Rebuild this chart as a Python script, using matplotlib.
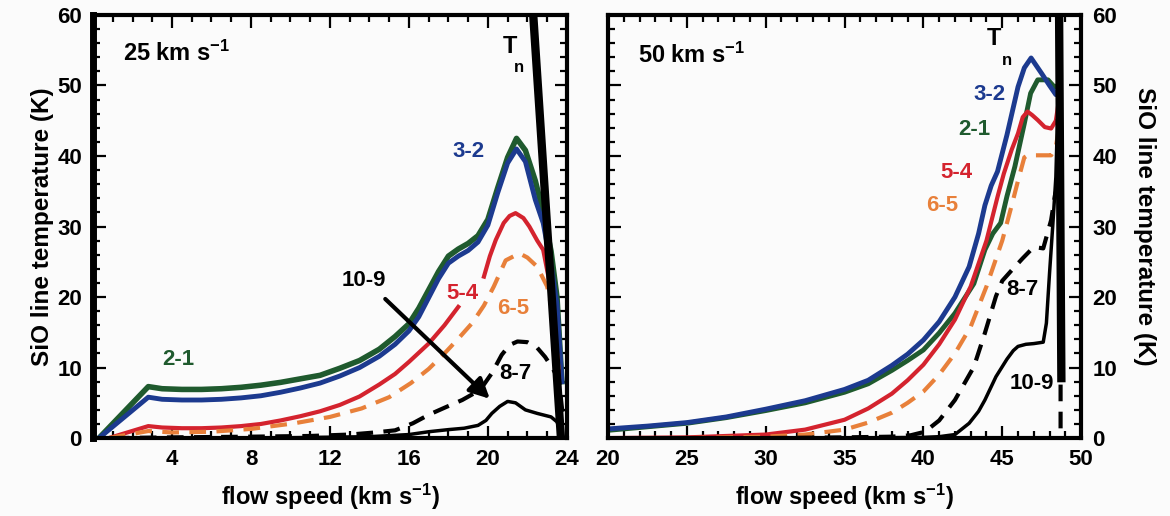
import matplotlib
matplotlib.use('Agg')
import matplotlib.pyplot as plt
from matplotlib.ticker import MultipleLocator

plt.rcParams['font.family'] = ['Liberation Sans', 'DejaVu Sans']
plt.rcParams['font.weight'] = 'bold'
plt.rcParams['axes.labelweight'] = 'bold'
plt.rcParams['mathtext.fontset'] = 'custom'
plt.rcParams['mathtext.rm'] = 'Liberation Sans:bold'
plt.rcParams['mathtext.bf'] = 'Liberation Sans:bold'
plt.rcParams['mathtext.default'] = 'bf'
plt.rcParams['lines.solid_joinstyle'] = 'round'
plt.rcParams['lines.dash_joinstyle'] = 'round'

# ---- left panel: 25 km/s shock ----
x_L = [0.3, 2.8, 3.5, 4.5, 5.5, 6.5, 7.5, 8.5, 9.5, 10.5, 11.5, 12.5, 13.5, 14.5, 15.3, 16.0, 16.5,
       17.0, 17.5, 18.0, 18.5, 19.0, 19.5, 20.0, 20.5, 21.0, 21.45, 21.9, 22.4, 22.8, 23.2, 23.5, 23.75]
y21_L = [0.0, 7.3, 7.0, 6.9, 6.9, 7.0, 7.2, 7.5, 7.9, 8.4, 8.9, 9.9, 11.0, 12.6, 14.4, 16.2, 18.4,
         21.0, 23.6, 25.8, 26.8, 27.6, 28.7, 31.0, 35.5, 39.8, 42.5, 40.8, 36.5, 32.0, 26.5, 20.0, 8.0]
y32_L = [0.0, 5.8, 5.5, 5.4, 5.4, 5.5, 5.7, 6.0, 6.5, 7.1, 7.8, 8.8, 10.0, 11.6, 13.3, 15.2, 17.2,
         19.9, 22.6, 24.8, 25.8, 26.6, 27.8, 30.2, 34.8, 39.0, 41.0, 39.2, 33.8, 30.5, 24.5, 19.0, 8.0]
x54a_L = [0.8, 2.8, 3.5, 4.5, 5.5, 6.5, 7.5, 8.5, 9.5, 10.5, 11.5, 12.5, 13.5, 14.5, 15.3, 16.0, 17.0, 17.8, 18.5]
y54a_L = [0.0, 1.7, 1.5, 1.4, 1.4, 1.5, 1.7, 2.0, 2.5, 3.1, 3.8, 4.7, 5.9, 7.6, 9.1, 10.8, 13.4, 16.0, 18.6]
x54b_L = [19.8, 20.1, 20.4, 20.8, 21.1, 21.4, 21.8, 22.1, 22.5, 22.8, 23.1, 23.35, 23.6]
y54b_L = [22.9, 25.8, 28.1, 30.5, 31.5, 31.9, 31.2, 30.0, 28.0, 26.7, 22.4, 17.0, 8.7]
x65_L = [0.8, 2.8, 4.0, 6.0, 8.0, 10.2, 12.0, 13.6, 15.0, 16.1, 17.0, 17.8, 18.5, 19.2, 19.8, 20.3,
         20.9, 21.6, 22.0, 22.5, 23.0, 23.3, 23.6]
y65_L = [0.0, 1.0, 0.8, 0.9, 1.3, 2.1, 3.0, 4.2, 5.8, 7.8, 9.8, 12.0, 14.1, 16.3, 18.8, 21.5,
         25.2, 26.2, 25.6, 24.3, 21.5, 17.5, 9.2]
x87_L = [1.0, 4.0, 8.0, 11.0, 13.0, 14.3, 15.3, 16.2, 17.0, 17.8, 18.7, 19.4, 19.8, 20.2, 20.7, 21.1,
         21.5, 22.0, 22.5, 22.9, 23.3, 23.6, 23.8]
y87_L = [0.0, 0.1, 0.2, 0.3, 0.5, 0.8, 1.1, 2.1, 3.3, 4.3, 5.4, 6.5, 7.6, 9.2, 11.8, 13.2,
         13.7, 13.6, 12.8, 11.5, 9.8, 8.2, 3.0]
x109_L = [4.0, 10.0, 14.0, 16.0, 17.0, 18.0, 18.8, 19.5, 19.9, 20.2, 20.6, 21.0, 21.4, 21.9, 22.5, 23.2, 23.5, 23.7]
y109_L = [0.0, 0.05, 0.2, 0.5, 0.9, 1.2, 1.4, 1.8, 2.5, 3.5, 4.5, 5.2, 5.0, 4.0, 3.5, 3.0, 2.3, 0.8]
xTn_L = [22.25, 23.7]
yTn_L = [62.0, 0.0]

# ---- right panel: 50 km/s shock ----
x32_R = [20, 22.5, 25, 27.5, 30, 32.5, 35, 36.5, 38, 39, 40, 41, 42, 42.9, 43.5, 43.9, 44.3, 44.7,
         45.3, 46.0, 46.4, 46.83, 47.5, 48.0, 48.4, 48.55]
y32_R = [1.3, 1.7, 2.2, 3.0, 4.1, 5.3, 6.9, 8.2, 10.3, 11.9, 13.9, 16.5, 20.0, 24.3, 29.0, 33.0, 35.8, 37.8,
         43.0, 49.8, 52.5, 53.9, 51.7, 50.0, 48.7, 49.5]
x21_R = [20, 22.5, 25, 27.5, 30, 32.5, 35, 36.5, 38, 39, 40, 41, 42, 43.2, 43.9, 44.4, 44.9, 45.3,
         45.8, 46.4, 46.8, 47.25, 47.9, 48.3, 48.55]
y21_R = [1.1, 1.6, 2.1, 2.9, 3.9, 5.0, 6.5, 7.7, 9.6, 11.0, 12.5, 14.9, 17.7, 21.9, 26.7, 29.0, 30.5, 34.3,
         38.5, 44.6, 48.9, 50.8, 50.8, 49.8, 50.0]
x54_R = [20, 25, 30, 32.5, 35, 36.5, 38, 39, 40, 41, 42, 43, 44, 44.7, 45.1, 45.6, 46.0, 46.3,
         46.6, 46.9, 47.25, 47.7, 48.1, 48.4, 48.6]
y54_R = [0.0, 0.1, 0.5, 1.2, 2.6, 4.2, 6.3, 8.2, 10.4, 13.3, 16.8, 21.5, 28.0, 34.2, 37.5, 40.9, 43.2, 45.5,
         46.3, 45.8, 45.1, 44.1, 43.9, 45.0, 48.0]
x65_R = [20, 25, 30, 32.5, 35, 36.5, 38, 39, 40, 41, 42, 43, 44, 45, 45.6, 46.0, 46.4, 46.6,
         47.3, 48.1, 48.4, 48.6]
y65_R = [0.0, 0.0, 0.2, 0.5, 1.2, 2.2, 3.6, 5.0, 6.6, 9.0, 12.0, 15.8, 21.5, 28.0, 33.0, 36.5, 39.8, 40.1,
         40.1, 40.1, 41.3, 44.0]
x87_R = [20, 30, 35, 38, 39.2, 40.1, 41, 42, 43.2, 43.9, 44.6, 45.0, 45.6, 46.3, 47.0, 47.6, 48.1,
         48.35, 48.55, 48.7, 48.7]
y87_R = [0.0, 0.0, 0.1, 0.2, 0.4, 0.9, 2.5, 5.4, 10.1, 14.9, 20.1, 22.3, 23.8, 25.5, 27.1, 26.9, 30.9,
         34.5, 36.0, 30.0, 0.0]
x109_R = [20, 35, 40, 41, 42, 42.9, 43.5, 43.9, 44.6, 45.3, 45.7, 46.0, 46.5, 47.0, 47.6, 47.8, 48.0,
          48.2, 48.4, 48.5]
y109_R = [0.0, 0.0, 0.1, 0.2, 0.5, 2.1, 3.8, 5.4, 8.7, 11.2, 12.4, 13.0, 13.3, 13.4, 13.6, 16.3, 23.4,
          30.0, 37.0, 45.0]
xTn_R = [48.6, 48.75]
yTn_R = [62.0, 8.5]

c21 = '#1f5a2e'
c32 = '#1c3a8f'
c54 = '#d4232e'
c65 = '#e8803a'
dash = (0, (4, 2.5))

fig = plt.figure(figsize=(11.7, 5.16), dpi=100)
fig.patch.set_facecolor('#fbfbfb')
ax1 = fig.add_axes([0.0795, 0.151, 0.405, 0.820])
ax2 = fig.add_axes([0.5197, 0.151, 0.4043, 0.820])

# left panel curves
ax1.plot(x_L, y21_L, color=c21, lw=4)
ax1.plot(x_L, y32_L, color=c32, lw=3.5)
ax1.plot(x54a_L, y54a_L, color=c54, lw=3)
ax1.plot(x54b_L, y54b_L, color=c54, lw=3)
ax1.plot(x65_L, y65_L, color=c65, lw=3, ls=dash)
ax1.plot(x87_L, y87_L, color='k', lw=3, ls=dash)
ax1.plot(x109_L, y109_L, color='k', lw=2.5)
ax1.plot(xTn_L, yTn_L, color='k', lw=6)

ax1.text(1.5, 54.5, r'25 km s$^{-1}$', fontsize=17, va='center', ha='left')
ax1.text(21.1, 55.5, 'T', fontsize=17, ha='center', va='center')
ax1.text(21.55, 52.6, 'n', fontsize=12, ha='center', va='center')
ax1.text(19.0, 40.6, '3-2', color=c32, fontsize=16, ha='center', va='center')
ax1.text(4.3, 11.1, '2-1', color=c21, fontsize=16, ha='center', va='center')
ax1.text(18.7, 20.5, '5-4', color=c54, fontsize=16, ha='center', va='center')
ax1.text(21.3, 18.4, '6-5', color=c65, fontsize=16, ha='center', va='center')
ax1.text(21.4, 9.2, '8-7', color='k', fontsize=16, ha='center', va='center')
ax1.text(13.7, 22.4, '10-9', color='k', fontsize=16, ha='center', va='center')
ax1.annotate('', xy=(20.2, 5.3), xytext=(14.7, 20.0),
             arrowprops=dict(arrowstyle='-|>', lw=3, color='k', mutation_scale=30))

ax1.set_xlim(0, 24)
ax1.set_ylim(0, 60)
ax1.set_xticks([4, 8, 12, 16, 20, 24])
ax1.xaxis.set_minor_locator(MultipleLocator(1))
ax1.set_yticks([0, 10, 20, 30, 40, 50, 60])
ax1.yaxis.set_minor_locator(MultipleLocator(2))
ax1.set_xlabel(r'flow speed (km s$^{-1}$)', fontsize=17, labelpad=8)
ax1.set_ylabel('SiO line temperature (K)', fontsize=17.5, labelpad=2)

# right panel curves
ax2.plot(x21_R, y21_R, color=c21, lw=3.5)
ax2.plot(x32_R, y32_R, color=c32, lw=3.5)
ax2.plot(x54_R, y54_R, color=c54, lw=3)
ax2.plot(x65_R, y65_R, color=c65, lw=3, ls=dash)
ax2.plot(x87_R, y87_R, color='k', lw=3, ls=dash)
ax2.plot(x109_R, y109_R, color='k', lw=2.5)
ax2.plot(xTn_R, yTn_R, color='k', lw=6)

ax2.text(21.9, 54.3, r'50 km s$^{-1}$', fontsize=17, va='center', ha='left')
ax2.text(44.5, 56.6, 'T', fontsize=17, ha='center', va='center')
ax2.text(45.3, 53.6, 'n', fontsize=12, ha='center', va='center')
ax2.text(44.2, 48.7, '3-2', color=c32, fontsize=16, ha='center', va='center')
ax2.text(43.2, 43.7, '2-1', color=c21, fontsize=16, ha='center', va='center')
ax2.text(42.1, 37.6, '5-4', color=c54, fontsize=16, ha='center', va='center')
ax2.text(41.2, 33.0, '6-5', color=c65, fontsize=16, ha='center', va='center')
ax2.text(46.3, 21.0, '8-7', color='k', fontsize=16, ha='center', va='center')
ax2.text(46.9, 7.8, '10-9', color='k', fontsize=16, ha='center', va='center')

ax2.set_xlim(20, 50)
ax2.set_ylim(0, 60)
ax2.set_xticks([20, 25, 30, 35, 40, 45, 50])
ax2.xaxis.set_minor_locator(MultipleLocator(1))
ax2.set_yticks([0, 10, 20, 30, 40, 50, 60])
ax2.yaxis.set_minor_locator(MultipleLocator(2))
ax2.set_xlabel(r'flow speed (km s$^{-1}$)', fontsize=17, labelpad=8)
ax2.yaxis.set_label_position('right')
ax2.set_ylabel('SiO line temperature (K)', fontsize=17.5, rotation=270, labelpad=28)

for ax in (ax1, ax2):
    ax.set_facecolor('#fbfbfb')
    ax.tick_params(which='both', direction='in', top=True, right=True, left=True, bottom=True,
                   labelsize=16, width=1.6)
    ax.tick_params(which='major', length=9, pad=8)
    ax.tick_params(which='minor', length=5)
    for s in ax.spines.values():
        s.set_linewidth(3)
ax1.spines['left'].set_linewidth(5)
ax2.tick_params(which='both', labelleft=False, labelright=True)

fig.savefig('out.png', dpi=100, facecolor=fig.get_facecolor())
